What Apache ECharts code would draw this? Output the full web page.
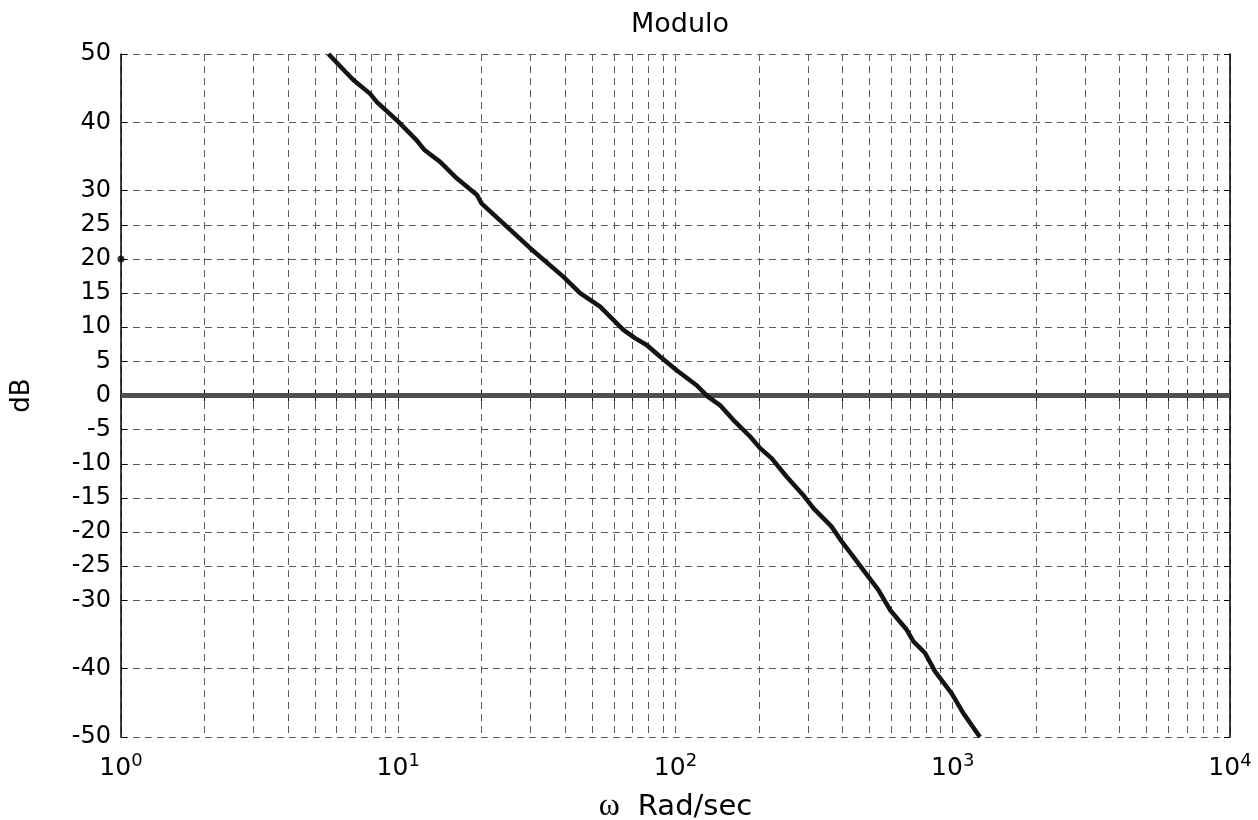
<!DOCTYPE html>
<html>
<head>
<meta charset="utf-8">
<script src="https://cdn.jsdelivr.net/npm/echarts@6/dist/echarts.min.js"></script>
<style>
  html, body { margin: 0; padding: 0; background: #fff; }
  #chart { width: 1258px; height: 820px; }
</style>
</head>
<body>
<div id="chart"></div>
<script>
// frequency (rad/sec) and magnitude (dB)
const omega = [5.6, 6.89, 7.91, 8.36, 10.0, 11.64, 12.47, 14.16, 16.26, 19.19, 20.0, 23.93, 29.85, 39.36, 45.29, 53.46,
  64.86, 71.45, 78.7, 87.9, 100.9, 119.1, 131.2, 144.5, 161.8, 185.8, 201.8, 222.3, 251.8, 289.1, 314.1,
  365.6, 398.1, 450.8, 539.5, 594.3, 682.3, 721.1, 794.3, 863.0, 990.8, 1091.4, 1253.1];
const magDb = [50.0, 46.2, 44.2, 43.0, 40.1, 37.4, 35.9, 34.2, 31.8, 29.4, 28.1, 25.2, 21.6, 17.4, 15.0, 13.0,
  9.6, 8.4, 7.4, 5.7, 3.7, 1.5, -0.2, -1.4, -3.6, -6.0, -7.7, -9.2, -11.9, -14.6, -16.5,
  -19.2, -21.4, -24.3, -28.5, -31.4, -34.3, -36.0, -37.7, -40.4, -43.6, -46.5, -50.0];

const yTicks = [50, 40, 30, 25, 20, 15, 10, 5, 0, -5, -10, -15, -20, -25, -30, -40, -50];
const xTicks = [1, 2, 3, 4, 5, 6, 7, 8, 9, 10, 20, 30, 40, 50, 60, 70, 80, 90, 100,
  200, 300, 400, 500, 600, 700, 800, 900, 1000, 2000, 3000, 4000, 5000, 6000, 7000, 8000, 9000, 10000];

const zeroLine = [[1, 0], [10000, 0]];
const marker = [[1, 20]];

const chart = echarts.init(document.getElementById('chart'));

const font = 'DejaVu Sans';
const gridDash = { color: '#5a5a5a', width: 1, type: [7, 5] };

const xBase = {
  type: 'log',
  logBase: 10,
  min: 1,
  max: 10000,
  axisLine: { show: true, lineStyle: { color: '#000', width: 1.5 } },
  axisTick: { show: true, inside: true, length: 6, customValues: xTicks, lineStyle: { color: '#000' } },
  minorTick: { show: false },
  minorSplitLine: { show: false }
};
const yBase = {
  type: 'value',
  min: -50,
  max: 50,
  interval: 5,
  axisLine: { show: true, lineStyle: { color: '#000', width: 1.5 } },
  axisTick: { show: true, inside: true, length: 6, customValues: yTicks, lineStyle: { color: '#000' } }
};

let option = {
  animation: false,
  backgroundColor: '#fff',
  title: {
    text: 'Modulo',
    left: 675,
    textAlign: 'center',
    top: 6,
    textStyle: { fontFamily: font, fontSize: 27, fontWeight: 'normal', color: '#000' }
  },
  grid: { left: 121, right: 28, top: 54, bottom: 83, outerBoundsMode: 'none', containLabel: false },
  xAxis: [
    Object.assign({}, xBase, {
      position: 'bottom',
      name: '{w|ω}{r|Rad/sec}',
      nameLocation: 'middle',
      nameGap: 54,
      nameTextStyle: {
        rich: {
          w: { fontFamily: 'Liberation Serif', fontSize: 32, color: '#000', padding: [0, 18, 0, 0] },
          r: { fontFamily: font, fontSize: 29, color: '#000' }
        }
      },
      axisLabel: {
        margin: 15,
        formatter: function (v) {
          return '{b|10}{s|' + Math.round(Math.log10(v)) + '}';
        },
        rich: {
          b: { fontFamily: font, fontSize: 25, color: '#000' },
          s: { fontFamily: font, fontSize: 18, color: '#000', padding: [0, 0, 15, 0] }
        }
      },
      splitLine: { show: true, lineStyle: gridDash }
    }),
    Object.assign({}, xBase, {
      position: 'top',
      axisLabel: { show: false },
      splitLine: { show: false }
    })
  ],
  yAxis: [
    Object.assign({}, yBase, {
      position: 'left',
      name: 'dB',
      nameLocation: 'middle',
      nameGap: 86,
      nameRotate: 90,
      nameTextStyle: { fontFamily: font, fontSize: 26, color: '#000' },
      axisLabel: {
        customValues: yTicks,
        margin: 10,
        fontFamily: font,
        fontSize: 24,
        color: '#000'
      },
      splitLine: { show: true, lineStyle: gridDash }
    }),
    Object.assign({}, yBase, {
      position: 'right',
      axisLabel: { show: false },
      splitLine: { show: false }
    })
  ],
  series: [
    {
      name: 'zero',
      type: 'line',
      data: zeroLine,
      symbol: 'none',
      lineStyle: { color: '#505050', width: 5 },
      z: 2
    },
    {
      name: 'modulo',
      type: 'line',
      data: omega.map((w, i) => [w, magDb[i]]),
      symbol: 'none',
      lineStyle: { color: '#141414', width: 4.5 },
      z: 3
    },
    {
      name: 'marker',
      type: 'scatter',
      data: marker,
      symbolSize: 7,
      itemStyle: { color: '#000' },
      clip: false,
      z: 4
    }
  ]
};

chart.setOption(option);
</script>
</body>
</html>
